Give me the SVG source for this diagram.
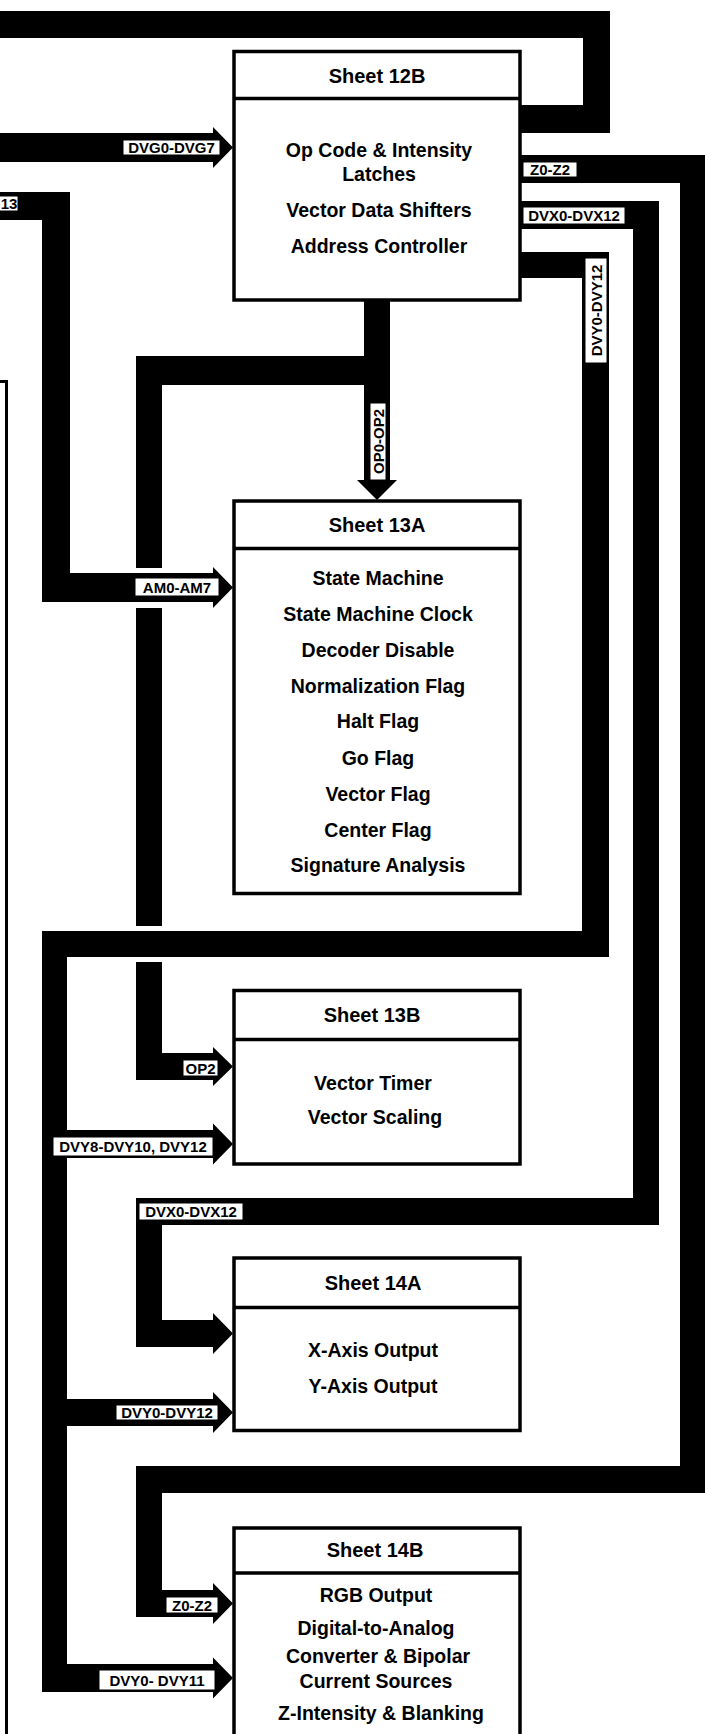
<svg xmlns="http://www.w3.org/2000/svg" width="705" height="1734" viewBox="0 0 705 1734">
<style>
.bg{fill:#fff}
.strip{fill:#000;stroke:none}
.thin{fill:none;stroke:#000;stroke-width:3}
.box{fill:#fff;stroke:#000;stroke-width:3.5}
.div{stroke:#000;stroke-width:3.5}
.hdr{font-family:"Liberation Sans",Arial,sans-serif;font-weight:bold;font-size:20px;text-anchor:middle;fill:#000}
.txt{font-family:"Liberation Sans",Arial,sans-serif;font-weight:bold;font-size:19.5px;text-anchor:middle;fill:#000}
.lb{fill:#fff;stroke:#000;stroke-width:1}
.lt{font-family:"Liberation Sans",Arial,sans-serif;font-weight:bold;font-size:15px;text-anchor:middle;fill:#000}
</style>
<rect class="bg" x="0" y="0" width="705" height="1734"/>
<g id="connectors">
  <path class="strip" d="M-5,11 H610 V133 H520 V105 H583 V38 H-5 Z"/>
  <path class="strip" d="M-5,133 H213 V127 L233,147.5 L213,168 V162 H-5 Z"/>
  <path class="strip" d="M-5,192 H70 V573 H213 V567 L233,587.5 L213,608 V602 H42 V220 H-5 Z"/>
  <path class="strip" d="M364,300 H390 V480 H397 L377,500 L357,480 H364 V385 H162 V568 H136 V356 H364 Z"/>
  <rect class="strip" x="136" y="608" width="26" height="318"/>
  <path class="strip" d="M136,962 H162 V1053 H213 V1047 L233,1066.5 L213,1086 V1080 H136 Z"/>
  <path class="strip" d="M520,155 H710 V1493 H162 V1590 H213 V1583 L233,1603.5 L213,1624 V1617 H136 V1466 H680 V183 H520 Z"/>
  <path class="strip" d="M520,201 H659 V1225 H162 V1320 H213 V1313 L233,1333.5 L213,1354 V1347 H136 V1198 H633 V229 H520 Z"/>
  <path class="strip" d="M520,252 H609 V957 H67 V1130 H213 V1123.5 L233,1144 L213,1164.5 V1158 H67 V1399 H213 V1392 L233,1412.5 L213,1433 V1426 H67 V1664 H213 V1657.5 L233,1678 L213,1698.5 V1692 H42 V931 H582 V278 H520 Z"/>
  <path class="thin" d="M0,381.5 H6.5 V1740"/>
  <g id="labels">
    <rect class="lb" x="123" y="140" width="97" height="15"/><text class="lt" x="171.5" y="153">DVG0-DVG7</text>
    <rect class="lb" x="-2" y="196" width="20" height="15"/><text class="lt" x="9" y="209">13</text>
    <rect class="lb" x="135" y="578" width="84" height="18"/><text class="lt" x="177" y="592.5">AM0-AM7</text>
    <rect class="lb" x="370" y="403" width="16" height="77"/><text class="lt" transform="translate(383.5,441.5) rotate(-90)">OP0-OP2</text>
    <rect class="lb" x="523" y="162" width="54" height="15"/><text class="lt" x="550" y="175">Z0-Z2</text>
    <rect class="lb" x="523" y="207" width="102" height="17"/><text class="lt" x="574" y="221">DVX0-DVX12</text>
    <rect class="lb" x="585" y="258" width="22" height="105"/><text class="lt" transform="translate(601.5,310.5) rotate(-90)">DVY0-DVY12</text>
    <rect class="lb" x="183" y="1060" width="35" height="16"/><text class="lt" x="200.5" y="1073.5">OP2</text>
    <rect class="lb" x="53" y="1137" width="160" height="19"/><text class="lt" x="133" y="1152">DVY8-DVY10, DVY12</text>
    <rect class="lb" x="139" y="1203" width="104" height="17"/><text class="lt" x="191" y="1217">DVX0-DVX12</text>
    <rect class="lb" x="116" y="1405" width="102" height="15"/><text class="lt" x="167" y="1418">DVY0-DVY12</text>
    <rect class="lb" x="166" y="1597" width="52" height="16"/><text class="lt" x="192" y="1610.5">Z0-Z2</text>
    <rect class="lb" x="99" y="1670" width="116" height="20"/><text class="lt" x="157" y="1685.5">DVY0- DVY11</text>
  </g>
</g>
<g id="sheet12B">
  <rect class="box" x="234" y="51.5" width="286" height="248.5"/>
  <line class="div" x1="234" y1="98.5" x2="520" y2="98.5"/>
  <text class="hdr" x="377" y="83">Sheet 12B</text>
  <text class="txt" x="379" y="157">Op Code &amp; Intensity</text>
  <text class="txt" x="379" y="181">Latches</text>
  <text class="txt" x="379" y="217">Vector Data Shifters</text>
  <text class="txt" x="379" y="253">Address Controller</text>
</g>
<g id="sheet13A">
  <rect class="box" x="234" y="501" width="286" height="392.5"/>
  <line class="div" x1="234" y1="548.5" x2="520" y2="548.5"/>
  <text class="hdr" x="377" y="532">Sheet 13A</text>
  <text class="txt" x="378" y="585">State Machine</text>
  <text class="txt" x="378" y="621">State Machine Clock</text>
  <text class="txt" x="378" y="657">Decoder Disable</text>
  <text class="txt" x="378" y="693">Normalization Flag</text>
  <text class="txt" x="378" y="728">Halt Flag</text>
  <text class="txt" x="378" y="765">Go Flag</text>
  <text class="txt" x="378" y="801">Vector Flag</text>
  <text class="txt" x="378" y="837">Center Flag</text>
  <text class="txt" x="378" y="872">Signature Analysis</text>
</g>
<g id="sheet13B">
  <rect class="box" x="234" y="990.5" width="286" height="173.5"/>
  <line class="div" x1="234" y1="1039.5" x2="520" y2="1039.5"/>
  <text class="hdr" x="372" y="1022">Sheet 13B</text>
  <text class="txt" x="373" y="1090">Vector Timer</text>
  <text class="txt" x="375" y="1124">Vector Scaling</text>
</g>
<g id="sheet14A">
  <rect class="box" x="234" y="1258" width="286" height="172.5"/>
  <line class="div" x1="234" y1="1307.5" x2="520" y2="1307.5"/>
  <text class="hdr" x="373" y="1290">Sheet 14A</text>
  <text class="txt" x="373" y="1357">X-Axis Output</text>
  <text class="txt" x="373" y="1393">Y-Axis Output</text>
</g>
<g id="sheet14B">
  <rect class="box" x="234" y="1528" width="286" height="220"/>
  <line class="div" x1="234" y1="1573" x2="520" y2="1573"/>
  <text class="hdr" x="375" y="1557">Sheet 14B</text>
  <text class="txt" x="376" y="1602">RGB Output</text>
  <text class="txt" x="376" y="1635">Digital-to-Analog</text>
  <text class="txt" x="378" y="1663">Converter &amp; Bipolar</text>
  <text class="txt" x="376" y="1688">Current Sources</text>
  <text class="txt" x="381" y="1720">Z-Intensity &amp; Blanking</text>
</g>
</svg>
